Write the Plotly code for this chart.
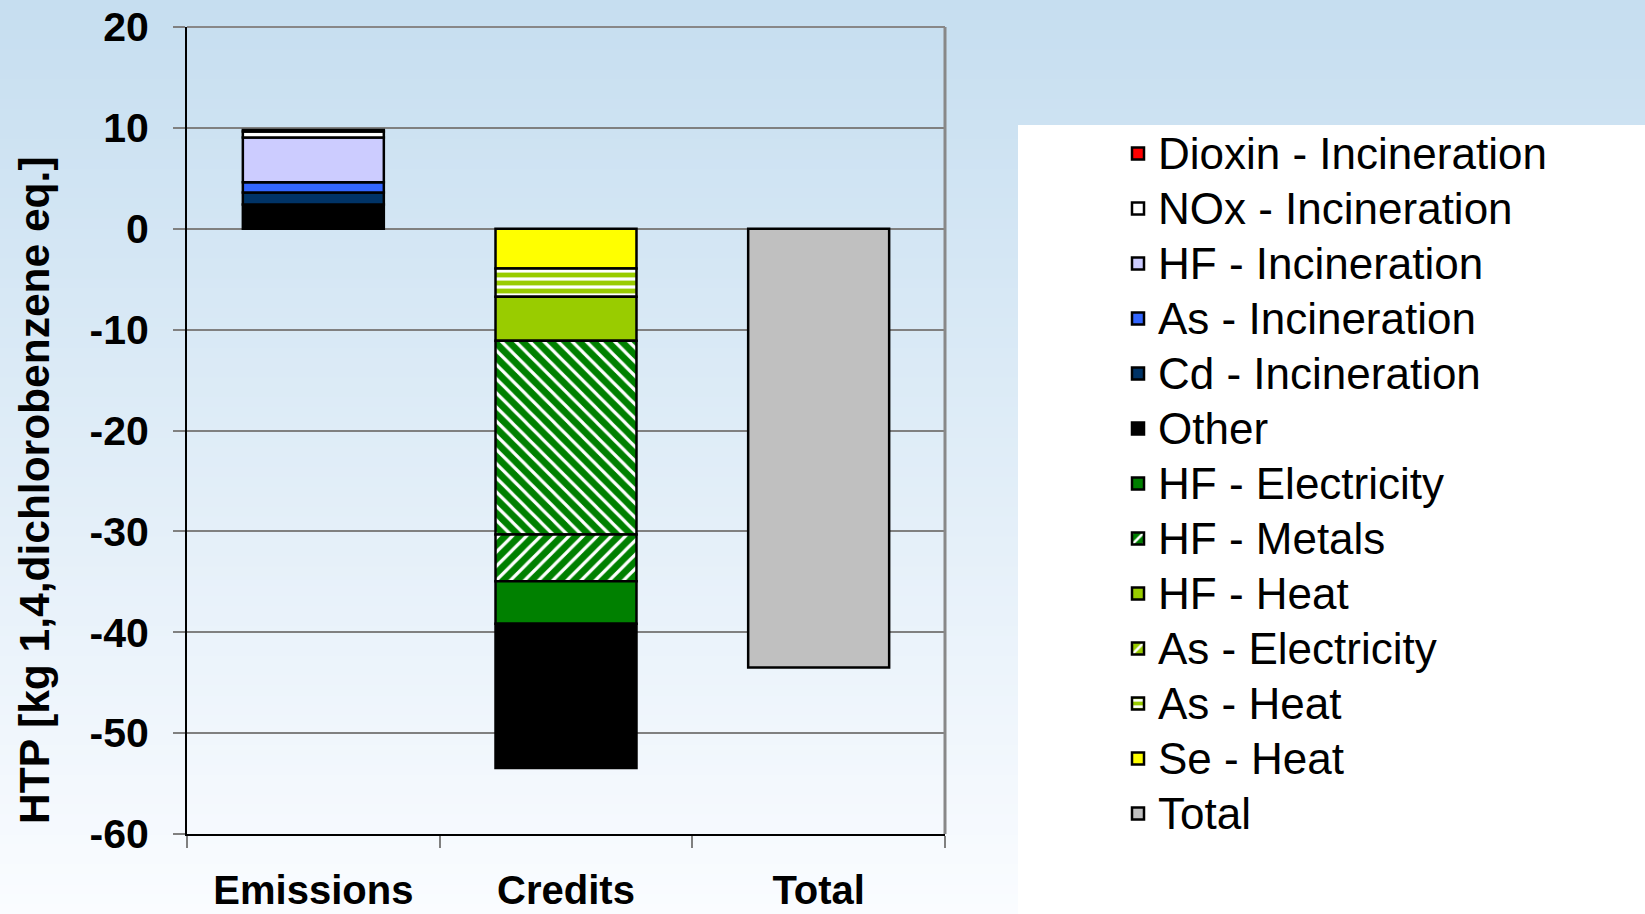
import plotly.graph_objects as go

# Categories and stacked values (kg 1,4-dichlorobenzene eq.)
categories = ["Emissions", "Credits", "Total"]

dioxin_incin = [0.15, None, None]
nox_incin = [0.6, None, None]
hf_incin = [4.45, None, None]
as_incin = [1.0, None, None]
cd_incin = [1.2, None, None]
other = [2.4, -14.3, None]
hf_electricity = [None, -4.2, None]
hf_metals_a = [None, -19.2, None]   # upper part, drawn with "\" hatch
hf_metals_b = [None, -4.65, None]   # lower part, drawn with "/" hatch
hf_heat = [None, -4.35, None]
as_electricity = [None, None, None]
as_heat = [None, -2.8, None]
se_heat = [None, -3.95, None]
total = [None, None, -43.5]

y_ticks = [20, 10, 0, -10, -20, -30, -40, -50, -60]
y_tick_labels = ["20", "10", "0", "-10", "-20", "-30", "-40", "-50", "-60"]

FONT = "Liberation Sans, Arial, sans-serif"
W, H = 1645, 914
PLOT_L, PLOT_R, PLOT_T, PLOT_B = 187, 945, 27, 834


def px_x(x):
    return (x - PLOT_L) / (PLOT_R - PLOT_L)


def px_y(y):
    return (PLOT_B - y) / (PLOT_B - PLOT_T)


def bar(name, values, color, rank, pattern=None, showlegend=True):
    marker = {"color": color, "line": {"color": "black", "width": 2.5}}
    if pattern:
        marker["pattern"] = pattern
    # legend text drawn a little larger than the row spacing would give
    label = f'<span style="font-size:44px">{name}</span>'
    return go.Bar(x=categories, y=values, name=label, marker=marker,
                  legendrank=rank, showlegend=showlegend)


def hatch(shape, bg, size=10, solidity=0.32):
    return {"shape": shape, "bgcolor": bg, "fgcolor": "white",
            "size": size, "solidity": solidity, "fillmode": "replace"}


# trace order = stacking order away from zero
traces = [
    bar("Se - Heat", se_heat, "#ffff00", 12),
    bar("As - Heat", as_heat, "#99cc00", 11, hatch("-", "#99cc00", 8, 0.4)),
    bar("As - Electricity", as_electricity, "#99cc00", 10, hatch("/", "#99cc00")),
    bar("HF - Heat", hf_heat, "#99cc00", 9),
    bar("HF - Metals", hf_metals_a, "#008000", 8, hatch("\\", "#008000"), showlegend=False),
    bar("HF - Metals", hf_metals_b, "#008000", 8, hatch("/", "#008000")),
    bar("HF - Electricity", hf_electricity, "#008000", 7),
    bar("Other", other, "#000000", 6),
    bar("Cd - Incineration", cd_incin, "#003366", 5),
    bar("As - Incineration", as_incin, "#3366ff", 4),
    bar("HF - Incineration", hf_incin, "#ccccff", 3),
    bar("NOx - Incineration", nox_incin, "#ffffff", 2),
    bar("Dioxin - Incineration", dioxin_incin, "#ff0000", 1),
    bar("Total", total, "#c0c0c0", 13),
]

fig = go.Figure(traces)

# background: vertical blue-to-white gradient made of thin bands
shapes = []
n_bands = 92
top_rgb, bot_rgb = (198, 222, 240), (250, 252, 255)
for i in range(n_bands):
    t = i / (n_bands - 1)
    c = tuple(round(a + (b - a) * t) for a, b in zip(top_rgb, bot_rgb))
    y0 = H * i / n_bands
    y1 = H * (i + 1) / n_bands + 1
    shapes.append(dict(type="rect", xref="paper", yref="paper", layer="below",
                       x0=px_x(0), x1=px_x(W), y0=px_y(y1), y1=px_y(y0),
                       fillcolor=f"rgb{c}", line_width=0))
# white panel behind the legend
shapes.append(dict(type="rect", xref="paper", yref="paper", layer="below",
                   x0=px_x(1018), x1=px_x(W), y0=px_y(H), y1=px_y(125),
                   fillcolor="white", line_width=0))
# grey frame on the top and right of the plot area
shapes.append(dict(type="line", xref="paper", yref="paper", x0=1, x1=1, y0=0, y1=1,
                   line={"color": "#888888", "width": 3}))
shapes.append(dict(type="line", xref="paper", yref="paper", x0=0, x1=1, y0=1, y1=1,
                   line={"color": "#888888", "width": 2}))

fig.update_layout(
    width=W, height=H,
    barmode="relative", bargap=0.442,
    margin={"l": PLOT_L, "r": W - PLOT_R, "t": PLOT_T, "b": H - PLOT_B,
            "autoexpand": False},
    paper_bgcolor="white", plot_bgcolor="rgba(0,0,0,0)",
    font={"family": FONT, "color": "black"},
    shapes=shapes,
    legend={
        "x": px_x(1118), "y": px_y(121), "xanchor": "left", "yanchor": "top",
        "font": {"size": 40, "family": FONT}, "bgcolor": "rgba(0,0,0,0)",
        "traceorder": "normal",
    },
    annotations=[dict(
        text="HTP [kg 1,4,dichlorobenzene eq.]", textangle=-90,
        xref="paper", yref="paper", x=px_x(34), y=px_y(490),
        xanchor="center", yanchor="middle", showarrow=False,
        font={"size": 42.5, "family": FONT, "weight": "bold"},
    )],
)
fig.update_yaxes(
    range=[-60, 20], tickvals=y_ticks, ticktext=y_tick_labels,
    ticks="outside", ticklen=12, tickcolor="#808080", tickwidth=1.5,
    showgrid=True, gridcolor="#808080", gridwidth=1.5, zeroline=False,
    showline=True, linecolor="black", linewidth=2, automargin=False,
    tickfont={"size": 41, "family": FONT, "weight": "bold"},
    ticklabelstandoff=16,
)
fig.update_xaxes(
    ticks="outside", tickson="boundaries", ticklen=12, tickcolor="#808080",
    tickwidth=1.5, showline=True, linecolor="black", linewidth=2,
    showgrid=False, automargin=False,
    tickfont={"size": 40, "family": FONT, "weight": "bold"},
    ticklabelstandoff=20,
)

fig.write_html("out.html", config={"displayModeBar": False},
               post_script="document.body.style.margin='0';")
